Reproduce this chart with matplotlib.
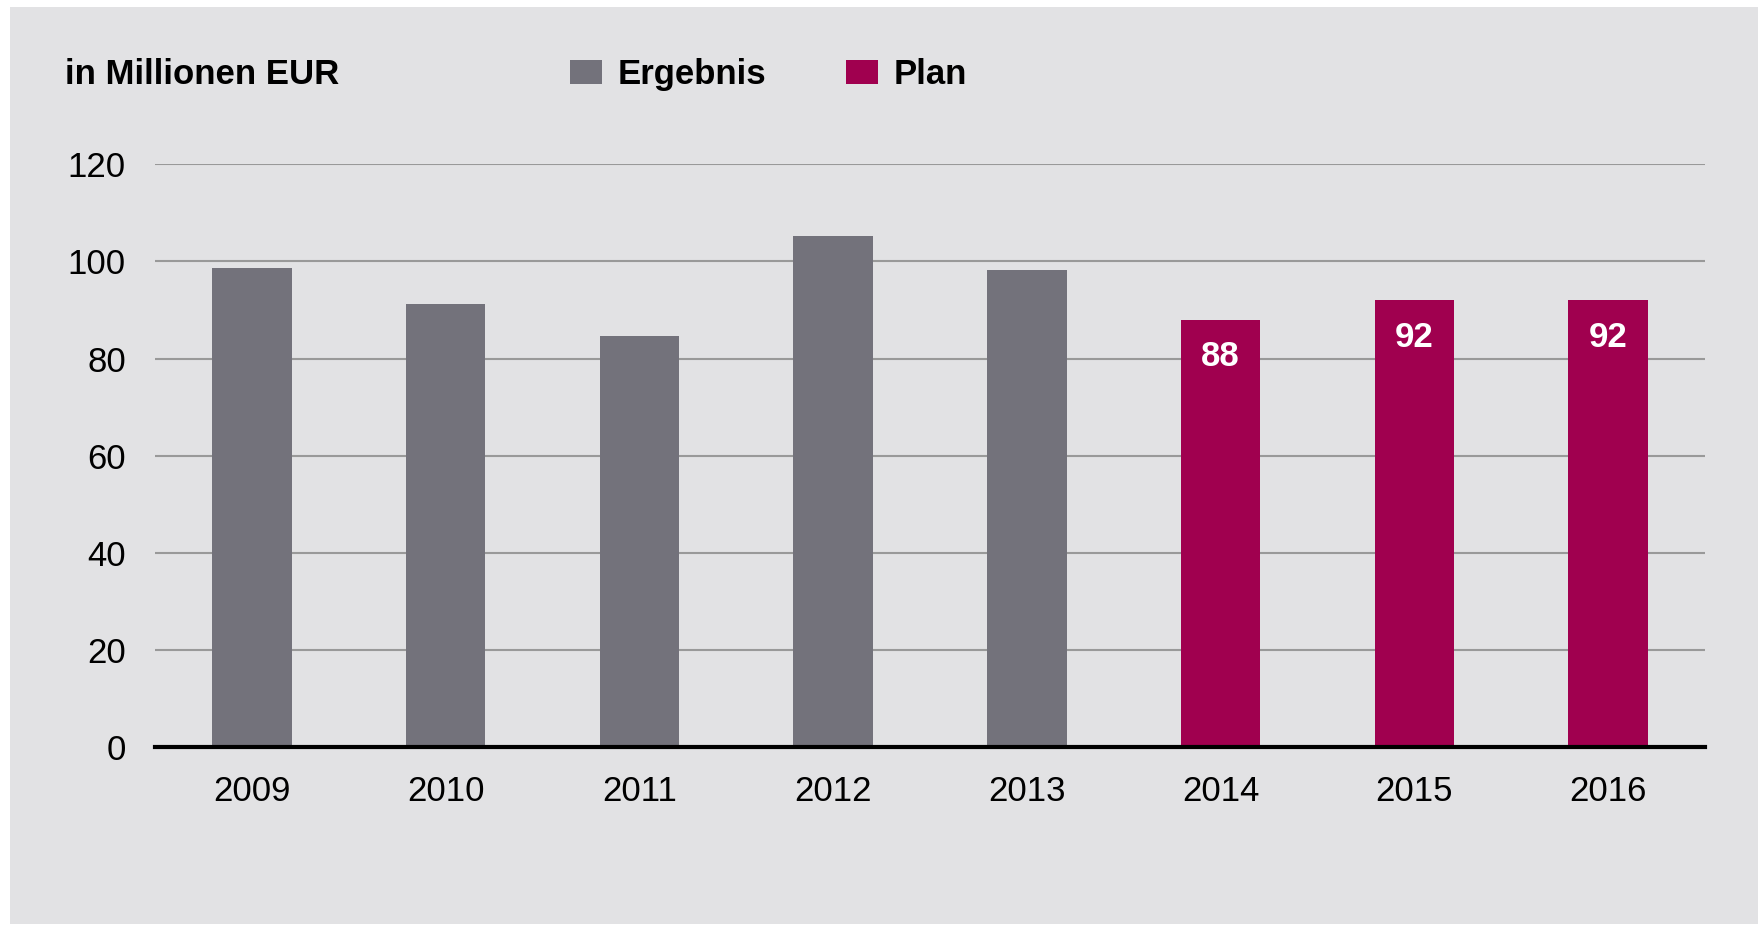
import matplotlib.pyplot as plt
from matplotlib.patches import Rectangle, Patch

plt.rcParams['font.family'] = ['Liberation Sans', 'DejaVu Sans']

years = ['2009', '2010', '2011', '2012', '2013', '2014', '2015', '2016']
values = [98.6, 91.2, 84.6, 105.2, 98.2, 88, 92, 92]
is_plan = [False, False, False, False, False, True, True, True]
plan_labels = ['88', '92', '92']

GREY = '#73727b'
PLAN = '#a0004f'
PANEL = '#e2e2e4'

fig = plt.figure(figsize=(17.64, 9.26), dpi=100)
fig.patch.set_facecolor('white')
# grey card behind everything
fig.patches.append(Rectangle((10 / 1764, 2 / 926), 1748 / 1764, 917 / 926,
                             transform=fig.transFigure, facecolor=PANEL,
                             edgecolor='none', zorder=-10))

ax = fig.add_axes([155 / 1764, 1 - 747 / 926, 1550 / 1764, (747 - 164.25) / 926])
ax.set_facecolor('none')

colors = [PLAN if p else GREY for p in is_plan]
x = range(len(years))
bars = ax.bar(x, values, width=0.41, color=colors, zorder=3)

# value labels on the plan bars
plan_bars = [b for b, p in zip(bars, is_plan) if p]
for b, lab in zip(plan_bars, plan_labels):
    ax.annotate(lab, (b.get_x() + b.get_width() / 2, b.get_height()),
                xytext=(0, -26.5), textcoords='offset points',
                ha='center', va='center', color='white',
                fontsize=25, fontweight='bold', zorder=4)

ax.set_xlim(-0.5, len(years) - 0.5)
ax.set_ylim(0, 120)
ax.set_yticks(range(0, 121, 20))
ax.set_xticks(list(x))
ax.set_xticklabels(years)
ax.tick_params(axis='both', length=0, labelsize=25)
ax.tick_params(axis='y', pad=21)
ax.tick_params(axis='x', pad=20)
ax.yaxis.grid(True, color='#999999', linewidth=1.5, zorder=0)
ax.set_axisbelow(True)
for side in ['top', 'left', 'right']:
    ax.spines[side].set_visible(False)
ax.spines['bottom'].set_linewidth(3)
ax.spines['bottom'].set_color('black')
ax.spines['bottom'].set_zorder(5)

fig.text(65 / 1764, 1 - 74.5 / 926, 'in Millionen EUR', fontsize=25,
         fontweight='bold', va='center', ha='left')

handles = [Patch(facecolor=GREY, label='Ergebnis'),
           Patch(facecolor=PLAN, label='Plan')]
leg = fig.legend(handles=handles, loc='center left',
                 bbox_to_anchor=(570 / 1764, 1 - 74.5 / 926), ncol=2,
                 frameon=False, borderpad=0, borderaxespad=0,
                 handlelength=0.92, handleheight=0.66, handletextpad=0.45,
                 columnspacing=2.3, prop={'size': 25, 'weight': 'bold'})

fig.savefig('out.png', dpi=100, facecolor='white')
